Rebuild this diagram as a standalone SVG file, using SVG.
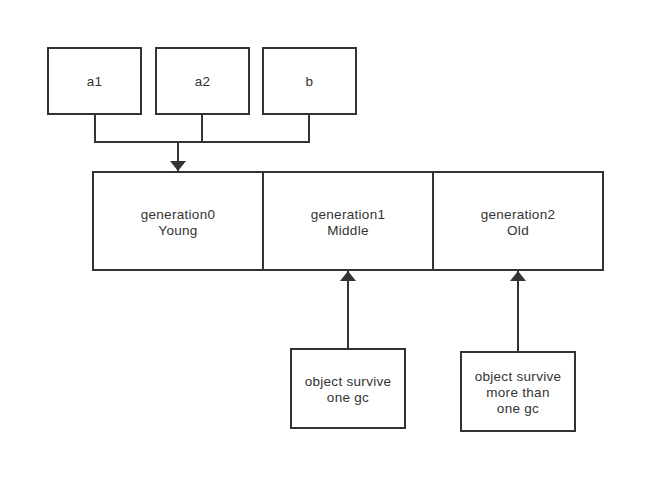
<svg xmlns="http://www.w3.org/2000/svg" width="665" height="493" viewBox="0 0 665 493">
<style>
.box{fill:#fff;stroke:#333;stroke-width:2}
.t{font-family:"Liberation Sans",Arial,sans-serif;font-size:13.5px;letter-spacing:0.3px;fill:#333;text-anchor:middle}
.c{fill:none;stroke:#333;stroke-width:2}
</style>
<defs>
<marker id="arr" viewBox="0 0 10 16" refX="10" refY="8" markerWidth="10" markerHeight="16" markerUnits="userSpaceOnUse" orient="auto">
<path d="M0,0 L10,8 L0,16 Z" fill="#333"/>
</marker>
</defs>
<rect width="665" height="493" fill="#fff"/>
<g id="connectors">
<path class="c" d="M95,114 V142 H309 V114"/>
<path class="c" d="M202,114 V142"/>
<path class="c" d="M178,142 V171" marker-end="url(#arr)"/>
<path class="c" d="M348,349 V271" marker-end="url(#arr)"/>
<path class="c" d="M518,352 V271" marker-end="url(#arr)"/>
</g>
<g id="a1"><rect class="box" x="48" y="48" width="93" height="66"/><text class="t" x="94.500" y="86">a1</text></g>
<g id="a2"><rect class="box" x="156" y="48" width="93" height="66"/><text class="t" x="202.500" y="86">a2</text></g>
<g id="b"><rect class="box" x="263" y="48" width="93" height="66"/><text class="t" x="309.500" y="86">b</text></g>
<g id="gen0"><rect class="box" x="93" y="172" width="170" height="98"/><text class="t" x="178" y="219">generation0</text><text class="t" x="178" y="235">Young</text></g>
<g id="gen1"><rect class="box" x="263" y="172" width="170" height="98"/><text class="t" x="348" y="219">generation1</text><text class="t" x="348" y="235">Middle</text></g>
<g id="gen2"><rect class="box" x="433" y="172" width="170" height="98"/><text class="t" x="518" y="219">generation2</text><text class="t" x="518" y="235">Old</text></g>
<g id="survive1"><rect class="box" x="291" y="349" width="114" height="79"/><text class="t" x="348" y="386">object survive</text><text class="t" x="348" y="402">one gc</text></g>
<g id="survive2"><rect class="box" x="461" y="352" width="114" height="79"/><text class="t" x="518" y="381">object survive</text><text class="t" x="518" y="397">more than</text><text class="t" x="518" y="413">one gc</text></g>
</svg>
